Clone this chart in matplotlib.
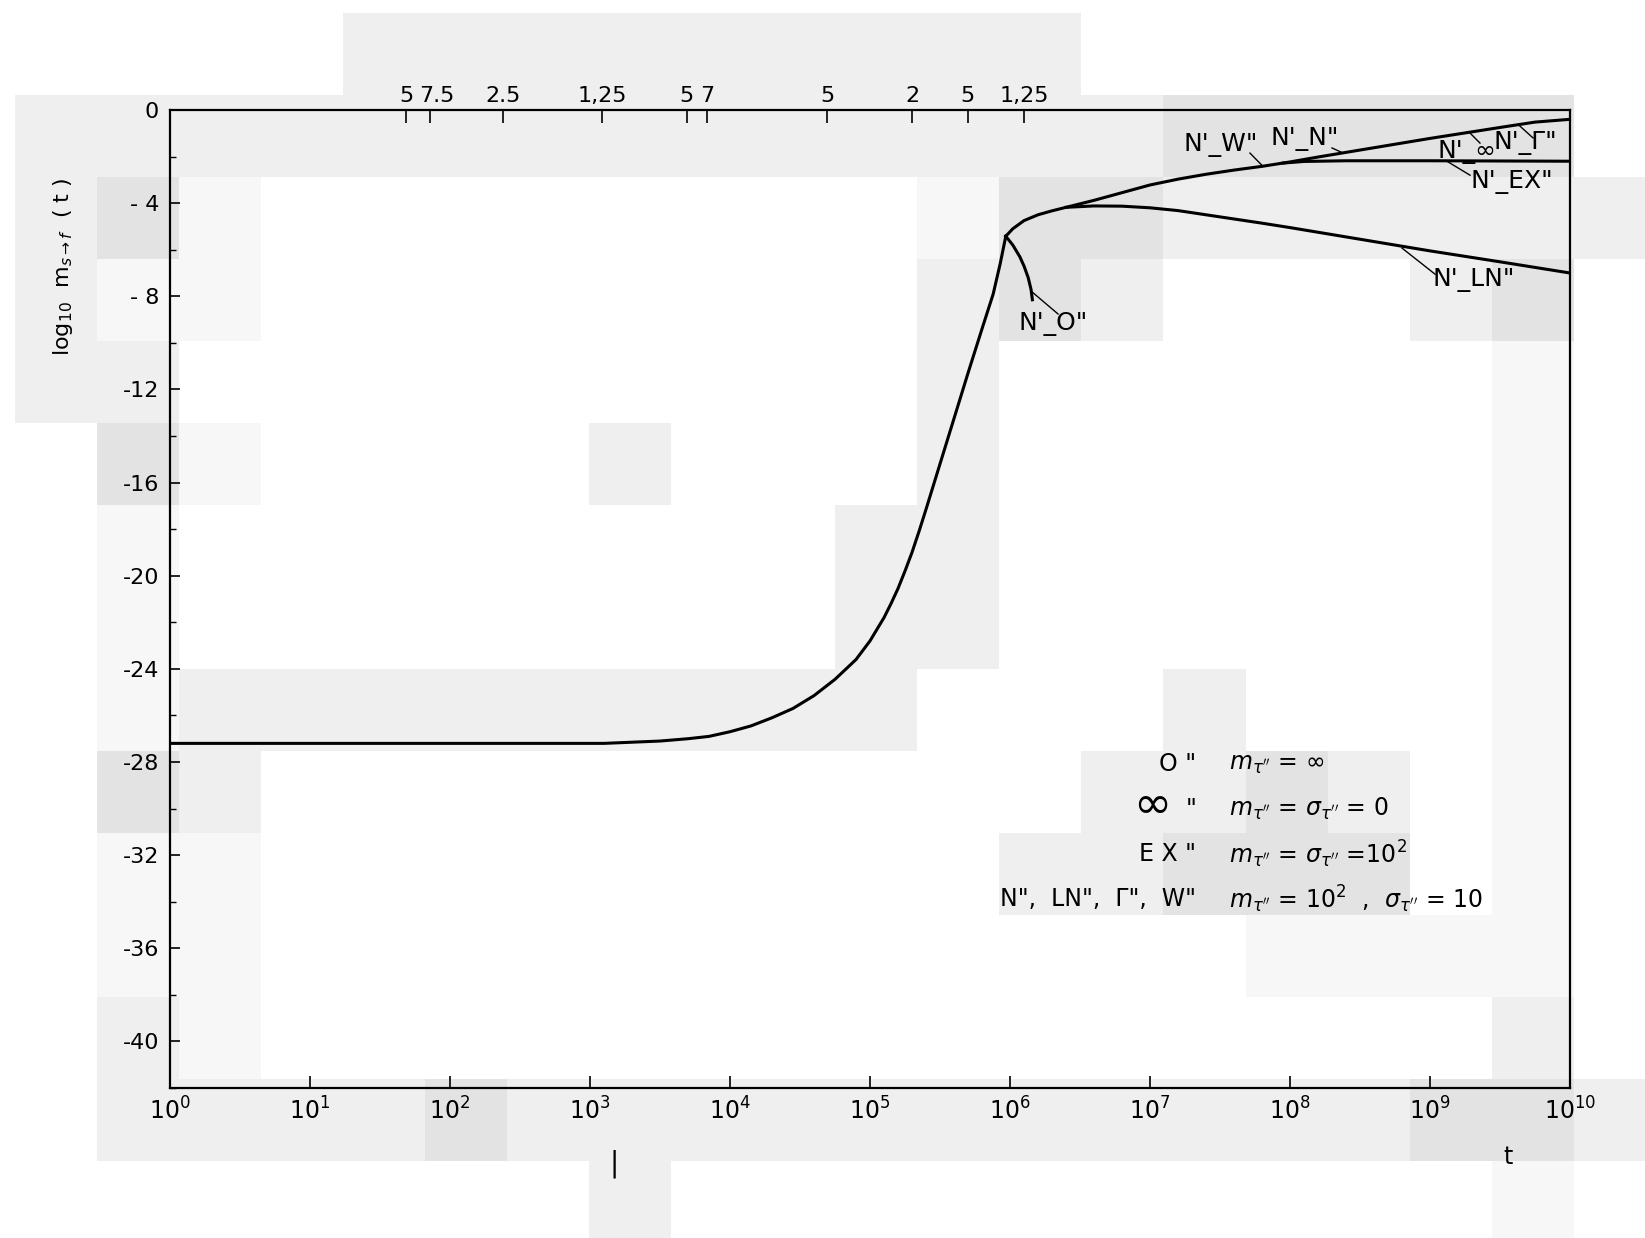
import matplotlib
matplotlib.use("Agg")
import matplotlib.pyplot as plt
import matplotlib.transforms as mtransforms
import numpy as np
from matplotlib.ticker import FixedLocator, MultipleLocator, NullLocator

W_PX, H_PX, DPI = 1645, 1238, 100

# log10 m(t) against log10 t; common rise up to the peak near t = 10^6
rise_logt = [0.0, 1.0, 2.0, 2.8, 3.1, 3.3, 3.5, 3.7, 3.85, 4.0, 4.15, 4.3, 4.45,
             4.6, 4.75, 4.9, 5.0, 5.1, 5.15, 5.2, 5.25, 5.3, 5.35, 5.4, 5.5, 5.6,
             5.7, 5.8, 5.88, 5.93, 5.97]
rise_val = [-27.2, -27.2, -27.2, -27.2, -27.2, -27.15, -27.1, -27.0, -26.9, -26.7,
            -26.45, -26.1, -25.7, -25.15, -24.45, -23.6, -22.8, -21.8, -21.2,
            -20.55, -19.8, -19.0, -18.1, -17.15, -15.2, -13.25, -11.3, -9.4,
            -7.9, -6.6, -5.42]

# N", W", Gamma", infinity" (coincide within line width)
upper_logt = [5.97, 6.02, 6.1, 6.2, 6.3, 6.4, 6.6, 6.8, 7.0, 7.2, 7.4, 7.6, 7.8,
              8.0, 8.2, 8.5, 9.0, 9.5, 9.75, 10.0]
upper_val = [-5.42, -5.1, -4.75, -4.5, -4.33, -4.18, -3.88, -3.55, -3.22, -2.97,
             -2.76, -2.58, -2.42, -2.23, -2.02, -1.72, -1.22, -0.75, -0.52, -0.4]

# EX"
ex_logt = [7.95, 8.1, 8.4, 9.0, 10.0]
ex_val = [-2.28, -2.21, -2.18, -2.18, -2.2]

# LN"
ln_logt = [6.4, 6.6, 6.8, 7.0, 7.2, 7.4, 7.6, 7.8, 8.0, 8.5, 9.0, 9.5, 10.0]
ln_val = [-4.18, -4.12, -4.13, -4.2, -4.32, -4.5, -4.68, -4.86, -5.05, -5.55,
          -6.05, -6.52, -7.0]

# O"
o_logt = [5.97, 6.02, 6.07, 6.1, 6.13, 6.15, 6.16]
o_val = [-5.42, -5.8, -6.3, -6.7, -7.2, -7.7, -8.15]

# secondary time scale along the top
top_tick_logt = [1.686, 1.855, 2.377, 3.085, 3.692, 3.837, 4.696, 5.303, 5.697, 6.102]
top_tick_labels = ["5", "7.5", "2.5", "1,25", "5", "7", "5", "2", "5", "1,25"]

y_tick_vals = [0, -4, -8, -12, -16, -20, -24, -28, -32, -36, -40]
y_tick_labels = ["0", "- 4", "- 8", "-12", "-16", "-20", "-24", "-28", "-32",
                 "-36", "-40"]
x_tick_exp = list(range(0, 11))

# key: (symbol drawn large, rest of the left column, right column)
legend_sym = ["", "\u221e", "", ""]
legend_left = ['O "', '"', 'E X "', 'N",  LN",  \u0393",  W"']
legend_right = [r"$m_{\tau''}$ = $\infty$",
                r"$m_{\tau''}$ = $\sigma_{\tau''}$ = 0",
                r"$m_{\tau''}$ = $\sigma_{\tau''}$ =10$^2$",
                r"$m_{\tau''}$ = 10$^2$  ,  $\sigma_{\tau''}$ = 10"]

# curve tags: text, text anchor (log t, value), ha, leader start, leader end
curve_tags = [
    ("N'_O\"", (6.307, -9.19), "center", (6.157, -7.81), (6.343, -8.76)),
    ("N'_LN\"", (9.02, -7.30), "left", (8.80, -5.93), (9.036, -7.05)),
    ("N'_EX\"", (9.29, -3.09), "left", (9.121, -2.20), (9.286, -2.80)),
    ("N'_\u221e", (9.057, -1.80), "left", (9.286, -0.99), (9.357, -1.42)),
    ("N'_\u0393\"", (9.45, -1.42), "left", (9.629, -0.62), (9.736, -1.20)),
    ("N'_W\"", (7.507, -1.50), "center", (7.714, -1.85), (7.807, -2.42)),
    ("N'_N\"", (8.107, -1.25), "center", (8.30, -1.63), (8.38, -1.85)),
]

# scanned-paper tone blocks: '.' white, 'a' very light, 'b' light, 'c' mid grey
paper = [
    "....bbbbbbbbb.......",
    "bbbbbbbbbbbbbbccccc.",
    "bca........accbbbbbb",
    "baa........bcb...bc.",
    "bb.........b......a.",
    ".ca....b...b......a.",
    ".a........bb......a.",
    ".a........bb......a.",
    ".abbbbbbbbb...b...a.",
    ".cb..........bbcb.a.",
    ".aa.........bbccc.a.",
    ".aa............aaaa.",
    ".ba...............b.",
    ".bbbbcbbbbbbbbbbbccb",
    ".......b..........a.",
]
tone = {".": 255, "a": 247, "b": 239, "c": 228}

fig = plt.figure(figsize=(W_PX / DPI, H_PX / DPI), dpi=DPI, facecolor="white")

bg = fig.add_axes([0, 0, 1, 1], zorder=-10)
grid = np.array([[tone[ch] for ch in row] for row in paper], dtype=float)
blk, x0, y0 = 82.0, 14.7, 13.6
bg.imshow(grid, cmap="gray", vmin=0, vmax=255, interpolation="nearest",
          extent=[x0, x0 + grid.shape[1] * blk, y0 + grid.shape[0] * blk, y0])
bg.set_xlim(0, W_PX)
bg.set_ylim(H_PX, 0)
bg.axis("off")

ax = fig.add_axes([170 / W_PX, 1 - 1088 / H_PX, 1400 / W_PX, 978 / H_PX])
ax.set_facecolor("none")

lw = 2.2
ax.plot(10.0 ** np.array(rise_logt), rise_val, color="black", lw=lw)
ax.plot(10.0 ** np.array(upper_logt), upper_val, color="black", lw=lw)
ax.plot(10.0 ** np.array(ex_logt), ex_val, color="black", lw=lw)
ax.plot(10.0 ** np.array(ln_logt), ln_val, color="black", lw=lw)
ax.plot(10.0 ** np.array(o_logt), o_val, color="black", lw=lw)

ax.set_xscale("log")
ax.set_xlim(1, 1e10)
ax.set_ylim(-42, 0)
ax.xaxis.set_major_locator(FixedLocator([10.0 ** e for e in x_tick_exp]))
ax.xaxis.set_minor_locator(NullLocator())
ax.set_xticklabels([r"$10^{%d}$" % e for e in x_tick_exp])
ax.yaxis.set_major_locator(FixedLocator(y_tick_vals))
ax.set_yticklabels(y_tick_labels)
ax.yaxis.set_minor_locator(MultipleLocator(2))
ax.tick_params(axis="x", which="major", direction="in", length=9, width=1.2,
               labelsize=17, pad=7, top=False)
ax.tick_params(axis="y", which="major", direction="in", length=7, width=1.2,
               labelsize=16, pad=8, right=False)
ax.tick_params(axis="y", which="minor", direction="in", length=4, width=1.0,
               right=False)
for sp in ax.spines.values():
    sp.set_linewidth(1.6)

ax_top = ax.twiny()
ax_top.set_xscale("log")
ax_top.set_xlim(1, 1e10)
ax_top.xaxis.set_major_locator(FixedLocator(10.0 ** np.array(top_tick_logt)))
ax_top.xaxis.set_minor_locator(NullLocator())
ax_top.set_xticklabels(top_tick_labels)
ax_top.tick_params(axis="x", direction="in", length=9, width=1.2, labelsize=16,
                   pad=3)
for sp in ax_top.spines.values():
    sp.set_visible(False)
# the "7.5" label sits a little right of its tick
nudge = mtransforms.ScaledTranslation(5 / 72, 0, fig.dpi_scale_trans)
lab = ax_top.get_xticklabels()[1]
lab.set_transform(lab.get_transform() + nudge)

for text, (tx, ty), ha, (lx0, ly0), (lx1, ly1) in curve_tags:
    ax.plot([10.0 ** lx0, 10.0 ** lx1], [ly0, ly1], color="black", lw=1.0)
    ax.text(10.0 ** tx, ty, text, ha=ha, va="center", fontsize=18)

row_y = [-28.08, -30.0, -31.95, -33.9]
for sym, lt, rt, y in zip(legend_sym, legend_left, legend_right, row_y):
    ax.text(10.0 ** 7.33, y, lt, ha="right", va="center", fontsize=17)
    if sym:
        ax.annotate(sym, xy=(10.0 ** 7.33, y), xytext=(-18, 2),
                    textcoords="offset points", ha="right", va="center",
                    fontsize=33)
    ax.text(10.0 ** 7.564, y, rt, ha="left", va="center", fontsize=17)

fig.text(63 / W_PX, 1 - 267 / H_PX, r"log$_{10}$  m$_{s\rightarrow f}$  ( t )",
         rotation=90, ha="center", va="center", fontsize=16)
fig.text(1508 / W_PX, 1 - 1157 / H_PX, "t", ha="center", va="center", fontsize=17)
fig.text(614 / W_PX, 1 - 1164 / H_PX, "|", ha="center", va="center", fontsize=20)

fig.savefig("out.png", dpi=DPI, facecolor="white")
